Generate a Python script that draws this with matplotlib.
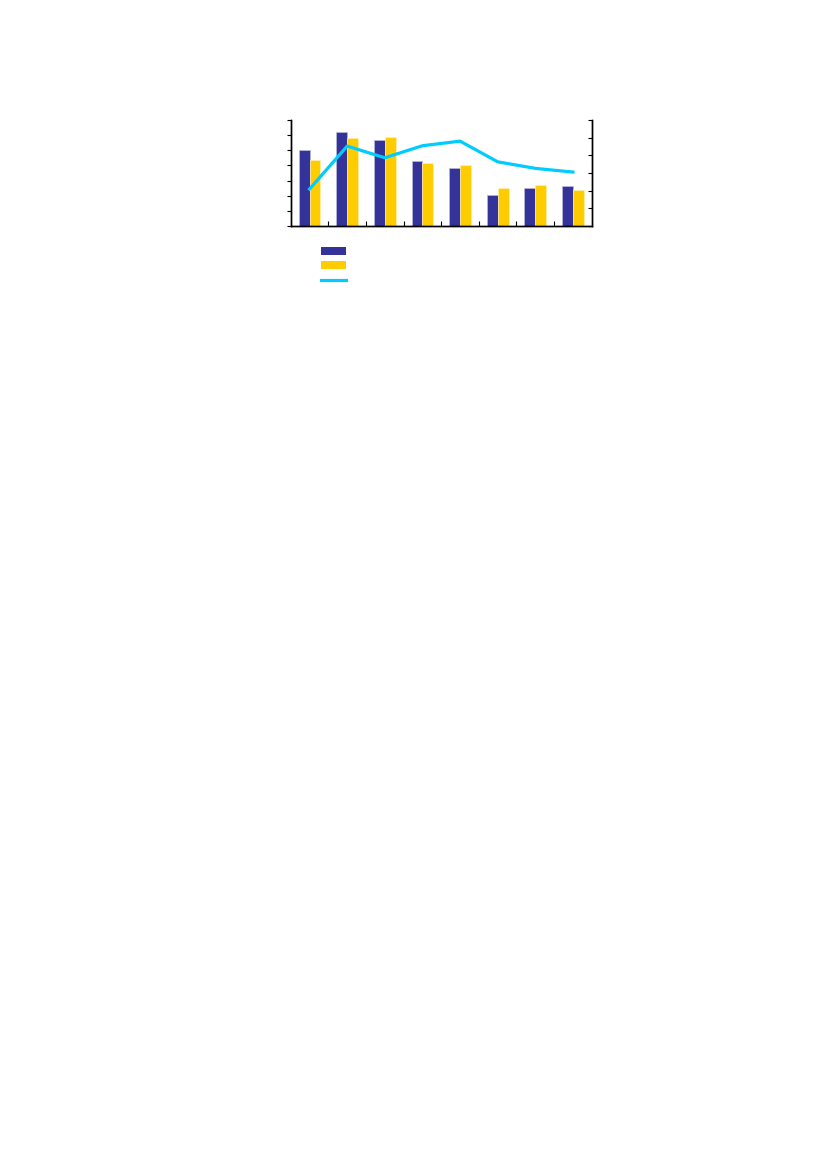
import matplotlib

matplotlib.use("Agg")
import matplotlib.pyplot as plt
import numpy as np
from matplotlib.lines import Line2D
from matplotlib.patches import Patch

# Values (no text labels in the picture)
categories = np.arange(8)
series_a = [4.99, 6.23, 5.70, 4.32, 3.84, 2.03, 2.52, 2.65]
series_b = [4.37, 5.83, 5.89, 4.17, 4.04, 2.52, 2.72, 2.38]
line_values = [2.09, 4.52, 3.86, 4.54, 4.80, 3.63, 3.26, 3.05]

NAVY = "#333399"
YELLOW = "#FFCC00"
CYAN = "#00CCFF"

fig = plt.figure(figsize=(8.26, 11.69), dpi=100)
ax = fig.add_axes([0.352, 0.8067, 0.3644, 0.0907])
ax2 = ax.twinx()

width = 0.29
ax.bar(categories - width / 2, series_a, width, color=NAVY, edgecolor="#b8b8dc", linewidth=0.5)
ax.bar(categories + width / 2, series_b, width, color=YELLOW, edgecolor="#fff0b0", linewidth=0.5)
ax2.plot(categories, line_values, color=CYAN, linewidth=2.3, solid_joinstyle="round")

ax.set_xlim(-0.5, 7.5)
ax.set_ylim(0, 7)
ax2.set_ylim(0, 6)
ax.set_xticks(np.arange(0.5, 7.5, 1))
ax.set_yticks(np.arange(0, 8, 1))
ax2.set_yticks(np.arange(0, 7, 1))
ax.tick_params(axis="x", direction="in", length=3.5, width=0.8, labelbottom=False)
ax.tick_params(axis="y", direction="out", length=3, width=0.8, labelleft=False)
ax2.tick_params(axis="y", direction="in", length=3, width=0.8, labelright=False)
for a in (ax, ax2):
    a.spines["top"].set_visible(False)
    for side in ("left", "right", "bottom"):
        a.spines[side].set_linewidth(1.0)

handles = [
    Patch(facecolor=NAVY),
    Patch(facecolor=YELLOW),
    Line2D([], [], color=CYAN, linewidth=2.3),
]
fig.legend(handles, ["", "", ""], loc="upper left", bbox_to_anchor=(0.381, 0.7956),
           frameon=False, fontsize=9, handlelength=2.0, handleheight=0.55,
           labelspacing=0.1, borderpad=0, handletextpad=0.3)

fig.savefig("out.png", dpi=100)
